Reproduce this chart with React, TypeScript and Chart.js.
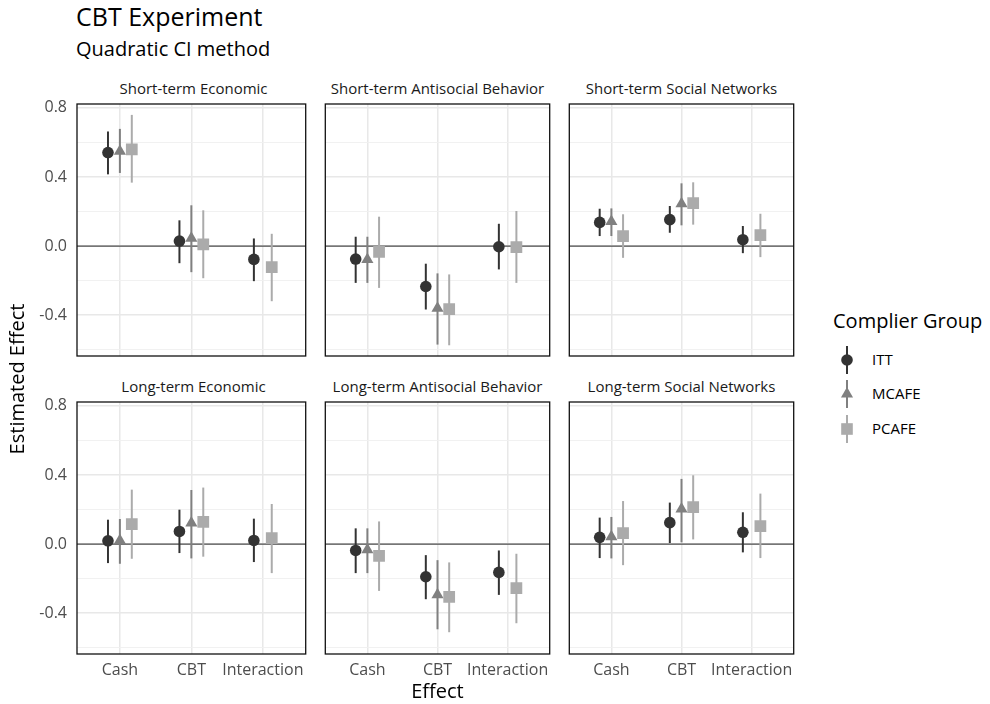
import React, { useEffect, useRef } from 'react';
import { Chart, registerables } from 'chart.js';

Chart.register(...registerables);

// ---------- data ----------
const CATEGORIES = ['Cash', 'CBT', 'Interaction'];
const PANELS = [
  'Short-term Economic',
  'Short-term Antisocial Behavior',
  'Short-term Social Networks',
  'Long-term Economic',
  'Long-term Antisocial Behavior',
  'Long-term Social Networks',
];
const GROUPS = ['ITT', 'MCAFE', 'PCAFE'];
const Y_TICKS = [-0.6, -0.4, -0.2, 0, 0.2, 0.4, 0.6, 0.8];
const Y_TICK_LABELS = ['', '-0.4', '', '0.0', '', '0.4', '', '0.8'];

// rows = panels, columns = Cash, CBT, Interaction
const ITT_EST = [
  [0.541, 0.029, -0.077],
  [-0.075, -0.234, -0.004],
  [0.137, 0.153, 0.037],
  [0.019, 0.073, 0.021],
  [-0.037, -0.189, -0.164],
  [0.039, 0.124, 0.068],
];
const ITT_LO = [
  [0.415, -0.099, -0.203],
  [-0.213, -0.367, -0.135],
  [0.058, 0.077, -0.041],
  [-0.11, -0.052, -0.104],
  [-0.168, -0.319, -0.294],
  [-0.081, 0.006, -0.048],
];
const ITT_HI = [
  [0.663, 0.149, 0.044],
  [0.054, -0.102, 0.129],
  [0.216, 0.232, 0.116],
  [0.141, 0.199, 0.147],
  [0.091, -0.064, -0.037],
  [0.153, 0.24, 0.184],
];
const MCAFE_EST = [
  [0.548, 0.045, null],
  [-0.078, -0.36, null],
  [0.142, 0.245, null],
  [0.02, 0.122, null],
  [-0.033, -0.293, null],
  [0.043, 0.203, null],
];
const MCAFE_LO = [
  [0.423, -0.151, null],
  [-0.213, -0.57, null],
  [0.058, 0.12, null],
  [-0.114, -0.083, null],
  [-0.168, -0.493, null],
  [-0.083, 0.01, null],
];
const MCAFE_HI = [
  [0.678, 0.236, null],
  [0.054, -0.158, null],
  [0.218, 0.363, null],
  [0.145, 0.313, null],
  [0.091, -0.093, null],
  [0.157, 0.377, null],
];
const PCAFE_EST = [
  [0.56, 0.01, -0.122],
  [-0.033, -0.365, -0.006],
  [0.058, 0.249, 0.064],
  [0.116, 0.128, 0.035],
  [-0.068, -0.305, -0.255],
  [0.064, 0.214, 0.104],
];
const PCAFE_LO = [
  [0.367, -0.186, -0.319],
  [-0.242, -0.574, -0.213],
  [-0.068, 0.124, -0.064],
  [-0.085, -0.073, -0.168],
  [-0.271, -0.51, -0.458],
  [-0.122, 0.027, -0.081],
];
const PCAFE_HI = [
  [0.759, 0.207, 0.071],
  [0.17, -0.164, 0.203],
  [0.184, 0.369, 0.187],
  [0.315, 0.327, 0.232],
  [0.131, -0.106, -0.056],
  [0.249, 0.398, 0.292],
];

const EST = [ITT_EST, MCAFE_EST, PCAFE_EST];
const LO = [ITT_LO, MCAFE_LO, PCAFE_LO];
const HI = [ITT_HI, MCAFE_HI, PCAFE_HI];

// ---------- style ----------
const FONT = '"Open Sans", "Noto Sans", "DejaVu Sans", sans-serif';
const COLORS = ['#333333', '#808080', '#ababab'];
const SHAPES = ['circle', 'triangle', 'rect'];
const RADII = [5.8, 7, 8.3];
const Y_MIN = -0.636;
const Y_MAX = 0.822;
const X_MIN = 0.4;
const X_MAX = 3.6;
const DODGE = 0.5;

const PANEL_X = [77, 321, 565];
const PANEL_Y = [104, 402];
const PANEL_W = 233;
const PANEL_H = 252;
const X_AXIS_H = 34;
const SIDE_PAD = 4;
const TB_PAD = 14;

const decorPlugin = {
  id: 'panelDecor',
  beforeDatasetsDraw(chart: any) {
    const { ctx, chartArea: a, scales } = chart;
    const ys = scales.y;
    ctx.save();
    const y0 = ys.getPixelForValue(0);
    ctx.strokeStyle = '#4d4d4d';
    ctx.lineWidth = 1.3;
    ctx.beginPath();
    ctx.moveTo(a.left, y0);
    ctx.lineTo(a.right, y0);
    ctx.stroke();
    chart.data.datasets.forEach((ds: any, i: number) => {
      const meta = chart.getDatasetMeta(i);
      ctx.strokeStyle = ds.backgroundColor;
      ctx.lineWidth = 2;
      ctx.lineCap = 'butt';
      meta.data.forEach((pt: any, j: number) => {
        ctx.beginPath();
        ctx.moveTo(pt.x, ys.getPixelForValue(ds.errLo[j]));
        ctx.lineTo(pt.x, ys.getPixelForValue(ds.errHi[j]));
        ctx.stroke();
      });
    });
    ctx.restore();
  },
  afterDatasetsDraw(chart: any) {
    const { ctx, chartArea: a } = chart;
    ctx.save();
    ctx.strokeStyle = '#111111';
    ctx.lineWidth = 1.3;
    ctx.strokeRect(a.left, a.top, a.right - a.left, a.bottom - a.top);
    ctx.restore();
  },
};

function isMajor(v: number) {
  const r = Math.abs(v / 0.4 - Math.round(v / 0.4));
  return r < 1e-6;
}

function PanelChart({ idx }: { idx: number }) {
  const ref = useRef<HTMLCanvasElement>(null);
  const col = idx % 3;
  const row = Math.floor(idx / 3);
  const isLeft = col === 0;
  const isBottom = row === 1;
  const yAxisW = isLeft ? PANEL_X[0] : 0;
  const xAxisH = isBottom ? X_AXIS_H : 0;
  const padL = isLeft ? 0 : SIDE_PAD;
  const padB = isBottom ? 0 : TB_PAD;
  const left = PANEL_X[col] - yAxisW - padL;
  const top = PANEL_Y[row] - TB_PAD;
  const W = padL + yAxisW + PANEL_W + SIDE_PAD;
  const H = TB_PAD + PANEL_H + xAxisH + padB;

  useEffect(() => {
    if (!ref.current) return;
    const datasets = GROUPS.map((g, gi) => {
      const data: any[] = [];
      const lo: number[] = [];
      const hi: number[] = [];
      CATEGORIES.forEach((_, ci) => {
        const v = EST[gi][idx][ci];
        if (v == null) return;
        const present = GROUPS.map((__, k) => k).filter((k) => EST[k][idx][ci] != null);
        const n = present.length;
        const k = present.indexOf(gi);
        const off = (k - (n - 1) / 2) * (DODGE / n);
        data.push({ x: ci + 1 + off, y: v });
        lo.push(LO[gi][idx][ci] as number);
        hi.push(HI[gi][idx][ci] as number);
      });
      return {
        label: g,
        data,
        errLo: lo,
        errHi: hi,
        pointStyle: SHAPES[gi],
        pointRadius: RADII[gi],
        pointHoverRadius: RADII[gi],
        backgroundColor: COLORS[gi],
        borderColor: COLORS[gi],
        borderWidth: 0,
        pointBorderWidth: 0,
        showLine: false,
      };
    });

    const chart = new Chart(ref.current, {
      type: 'scatter',
      data: { datasets: datasets as any },
      options: {
        responsive: false,
        animation: false,
        events: [],
        layout: { padding: { left: padL, right: SIDE_PAD, top: TB_PAD, bottom: padB } },
        plugins: { legend: { display: false }, tooltip: { enabled: false }, title: { display: false } },
        scales: {
          x: {
            type: 'linear',
            min: X_MIN,
            max: X_MAX,
            border: { display: false },
            grid: { color: '#e8e8e8', lineWidth: 1.5, drawTicks: false },
            ticks: {
              display: isBottom,
              padding: 7,
              color: '#4d4d4d',
              font: { family: FONT, size: 16 },
              maxRotation: 0,
              autoSkip: false,
              callback: (v: any) => CATEGORIES[Math.round(Number(v)) - 1] ?? '',
            },
            afterBuildTicks: (s: any) => {
              s.ticks = CATEGORIES.map((_, i) => ({ value: i + 1 }));
            },
            afterFit: (s: any) => {
              s.height = xAxisH;
              s.paddingLeft = 0;
              s.paddingRight = 0;
            },
          },
          y: {
            type: 'linear',
            min: Y_MIN,
            max: Y_MAX,
            border: { display: false },
            grid: {
              drawTicks: false,
              color: (c: any) => (isMajor(c.tick?.value ?? 0) ? '#e8e8e8' : '#efefef'),
              lineWidth: (c: any) => (isMajor(c.tick?.value ?? 0) ? 1.5 : 0.9),
            },
            ticks: {
              display: isLeft,
              padding: 10,
              color: '#4d4d4d',
              font: { family: FONT, size: 16 },
              autoSkip: false,
              callback: (v: any) => {
                const i = Y_TICKS.findIndex((t) => Math.abs(t - Number(v)) < 1e-6);
                return i >= 0 ? Y_TICK_LABELS[i] : '';
              },
            },
            afterBuildTicks: (s: any) => {
              s.ticks = Y_TICKS.map((v) => ({ value: v }));
            },
            afterFit: (s: any) => {
              s.width = yAxisW;
              s.paddingTop = 0;
              s.paddingBottom = 0;
            },
          },
        },
      },
      plugins: [decorPlugin],
    } as any);
    return () => chart.destroy();
  }, [idx]);

  return (
    <canvas
      ref={ref}
      width={W}
      height={H}
      style={{ position: 'absolute', left, top, width: W, height: H }}
    />
  );
}

function Txt({ x, baseline, size, children, align = 'left', color = '#000', rotate = false }: any) {
  const lh = size;
  const topOff = lh / 2 + 0.388 * size;
  if (rotate) {
    return (
      <div
        style={{
          position: 'absolute',
          left: x - 200,
          top: baseline - lh / 2,
          width: 400,
          height: lh,
          lineHeight: `${lh}px`,
          fontSize: size,
          fontFamily: FONT,
          color,
          textAlign: 'center',
          whiteSpace: 'nowrap',
          transform: 'rotate(-90deg)',
        }}
      >
        {children}
      </div>
    );
  }
  const style: any = {
    position: 'absolute',
    top: baseline - topOff,
    height: lh,
    lineHeight: `${lh}px`,
    fontSize: size,
    fontFamily: FONT,
    color,
    whiteSpace: 'nowrap',
  };
  if (align === 'center') {
    style.left = x - 200;
    style.width = 400;
    style.textAlign = 'center';
  } else {
    style.left = x;
  }
  return <div style={style}>{children}</div>;
}

function LegendGlyph({ gi }: { gi: number }) {
  const c = COLORS[gi];
  const w = 20;
  const h = 30;
  const cx = w / 2;
  const cy = h / 2;
  let shape: any = null;
  if (gi === 0) shape = <circle cx={cx} cy={cy} r={5.8} fill={c} />;
  if (gi === 1) {
    const r = 7;
    const pts = [
      [cx, cy - r],
      [cx + r * Math.sin(Math.PI / 3), cy + r / 2],
      [cx - r * Math.sin(Math.PI / 3), cy + r / 2],
    ]
      .map((p) => p.join(','))
      .join(' ');
    shape = <polygon points={pts} fill={c} />;
  }
  if (gi === 2) shape = <rect x={cx - 5.8} y={cy - 5.8} width={11.6} height={11.6} fill={c} />;
  return (
    <svg width={w} height={h} style={{ display: 'block' }}>
      <line x1={cx} y1={cy - 14} x2={cx} y2={cy + 14} stroke={c} strokeWidth={2} />
      {shape}
    </svg>
  );
}

const LEGEND_Y = [360, 394, 429];

export default function App() {
  return (
    <div
      style={{
        position: 'absolute',
        left: 0,
        top: 0,
        width: 990,
        height: 704,
        background: '#ffffff',
        overflow: 'hidden',
        fontFamily: FONT,
      }}
    >
      <Txt x={76} baseline={26} size={25}>CBT Experiment</Txt>
      <Txt x={76} baseline={57} size={20}>Quadratic CI method</Txt>

      {PANELS.map((p, i) => (
        <Txt
          key={'s' + i}
          x={PANEL_X[i % 3] + PANEL_W / 2}
          baseline={PANEL_Y[Math.floor(i / 3)] - 10}
          size={15}
          align="center"
          color="#1a1a1a"
        >
          {p}
        </Txt>
      ))}

      {PANELS.map((_, i) => (
        <PanelChart key={'c' + i} idx={i} />
      ))}

      <Txt x={PANEL_X[0] + (PANEL_X[2] + PANEL_W - PANEL_X[0]) / 2} baseline={699} size={20} align="center">
        Effect
      </Txt>
      <Txt x={17} baseline={379} size={20} rotate>
        Estimated Effect
      </Txt>

      <Txt x={833} baseline={329} size={20}>Complier Group</Txt>
      {GROUPS.map((g, gi) => (
        <React.Fragment key={g}>
          <div style={{ position: 'absolute', left: 837, top: LEGEND_Y[gi] - 15 }}>
            <LegendGlyph gi={gi} />
          </div>
          <Txt x={872} baseline={LEGEND_Y[gi] + 5.5} size={15}>
            {g}
          </Txt>
        </React.Fragment>
      ))}
    </div>
  );
}
